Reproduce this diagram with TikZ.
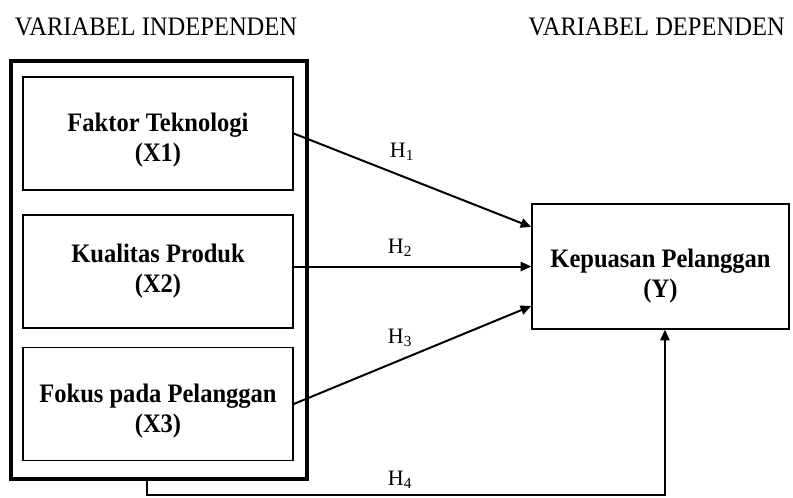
\documentclass[tikz,border=0pt]{standalone}
\usepackage{graphicx}
\usepackage{fontspec}
\setmainfont{Liberation Serif}
\usetikzlibrary{positioning,arrows.meta}
\newcommand{\narrowtext}[1]{\scalebox{0.92}[1]{#1}}

\begin{document}
\begin{tikzpicture}[x=0.75pt,y=-0.75pt,>={Triangle[length=8pt,width=7pt]},line cap=round,
  every node/.style={font=\fontsize{20}{22.5}\selectfont},
  varbox/.style={draw,line width=1.1pt,inner sep=0pt,minimum width=202.5pt,minimum height=84.5pt},
  vartext/.style={align=center,inner sep=0pt,font=\bfseries\fontsize{20}{22.5}\selectfont},
  hlink/.style={->,line width=1.5pt},
  hlabel/.style={font=\fontsize{16.5}{18}\selectfont}]
\useasboundingbox (0,0) rectangle (793,497);
\node[anchor=base] (hindep) at (156,35) {\narrowtext{VARIABEL INDEPENDEN}};
\node[anchor=base] (hdep) at (656.5,35) {\narrowtext{VARIABEL DEPENDEN}};
% variabel independen
\node[draw,line width=2.4pt,minimum width=222pt,minimum height=313.5pt] (indep) at (159,270) {};
\node[varbox] (x1) at (158,133.5) {};
\node[varbox] (x2) at (158,271.5) {};
\node[varbox] (x3) at (158,404) {};
\node[vartext] (x1t) at ([yshift=-5pt]x1.center) {\narrowtext{Faktor Teknologi}\\\narrowtext{(X1)}};
\node[vartext] (x2t) at (x2.center) {\narrowtext{Kualitas Produk}\\\narrowtext{(X2)}};
\node[vartext] (x3t) at ([yshift=-5pt]x3.center) {\narrowtext{Fokus pada Pelanggan}\\\narrowtext{(X3)}};
% variabel dependen
\node[varbox,minimum width=192.75pt,minimum height=93.75pt] (y) at (660.5,266.5) {};
\node[vartext] (yt) at ([yshift=-7pt]y.center) {\narrowtext{Kepuasan Pelanggan}\\\narrowtext{(Y)}};
% hipotesis
\coordinate (h4a) at (147,495);
\draw[hlink] (x1.east) -- (y.163);
\draw[hlink] (y.west -| x2.east) -- (y.west);
\draw[hlink] (x3.east) -- (y.197);
\draw[hlink] (indep.south -| h4a) -- (h4a) -| (y.274);
\node[hlabel] (h1) at (402,152) {H\textsubscript{1}};
\node[hlabel] (h2) at (400,248) {H\textsubscript{2}};
\node[hlabel] (h3) at (400,338) {H\textsubscript{3}};
\node[hlabel] (h4) at (400,480) {H\textsubscript{4}};
\end{tikzpicture}
\end{document}
